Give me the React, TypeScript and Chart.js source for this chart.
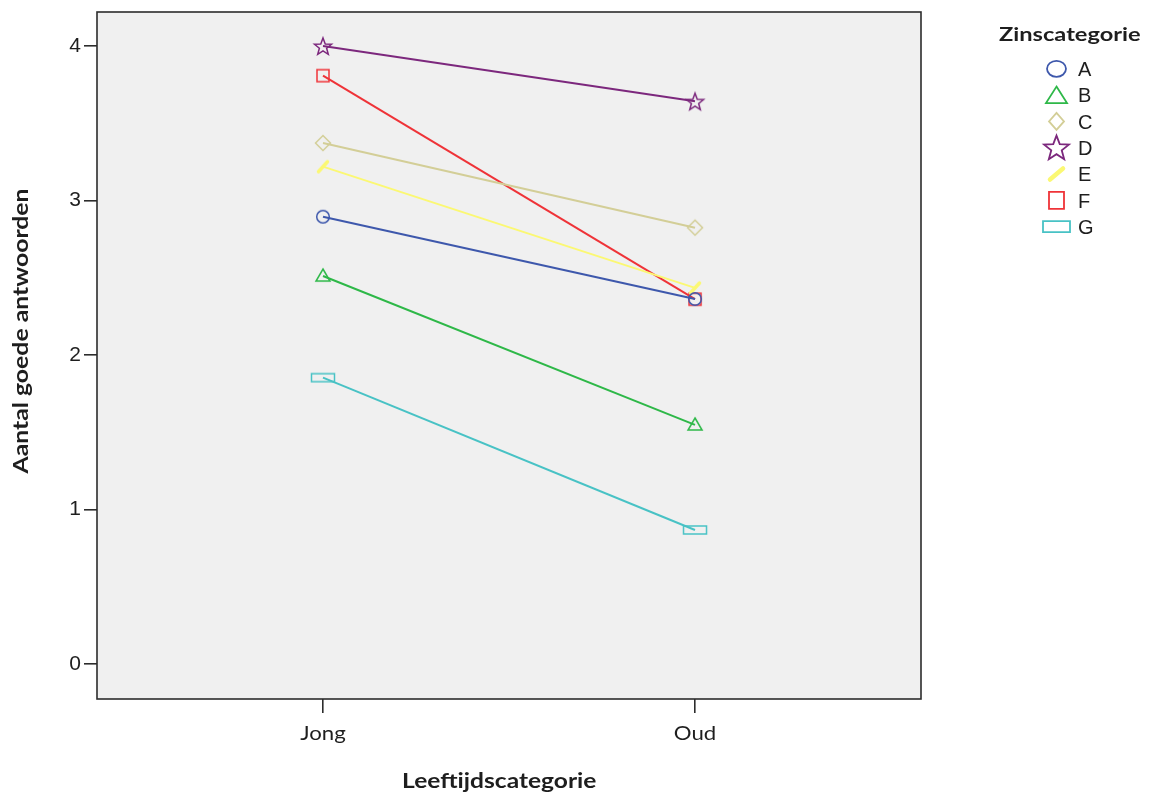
import React, { useEffect, useRef } from "react";
import { Chart, registerables } from "chart.js";

Chart.register(...registerables);

const categories = ["Jong", "Oud"];
const seriesNames = ["A", "B", "C", "D", "E", "F", "G"];
const valuesA = [2.895, 2.362];
const valuesB = [2.511, 1.547];
const valuesC = [3.372, 2.824];
const valuesD = [4.0, 3.642];
const valuesE = [3.219, 2.434];
const valuesF = [3.808, 2.361];
const valuesG = [1.853, 0.867];
const yTickValues = [0, 1, 2, 3, 4];

const seriesValues = [valuesA, valuesB, valuesC, valuesD, valuesE, valuesF, valuesG];
const seriesColors = ["#3E58AC", "#2EB848", "#D3CE97", "#7C287D", "#FBF873", "#EF3338", "#48C2C5"];
const markerKinds = ["circle", "triangle", "diamond", "star", "slash", "square", "wide"];

function shapePath(ctx: CanvasRenderingContext2D, kind: string, cx: number, cy: number, k: number) {
  ctx.beginPath();
  if (kind === "circle") {
    ctx.ellipse(cx, cy, 6.3 * k, 6.2 * k, 0, 0, Math.PI * 2);
  } else if (kind === "triangle") {
    ctx.moveTo(cx, cy - 7 * k);
    ctx.lineTo(cx + 7 * k, cy + 5 * k);
    ctx.lineTo(cx - 7 * k, cy + 5 * k);
    ctx.closePath();
  } else if (kind === "diamond") {
    ctx.moveTo(cx, cy - 7.5 * k);
    ctx.lineTo(cx + 7.5 * k, cy);
    ctx.lineTo(cx, cy + 7.5 * k);
    ctx.lineTo(cx - 7.5 * k, cy);
    ctx.closePath();
  } else if (kind === "star") {
    for (let i = 0; i < 10; i++) {
      const r = (i % 2 === 0 ? 9 : 3.8) * k;
      const a = -Math.PI / 2 + (i * Math.PI) / 5;
      const px = cx + r * Math.cos(a);
      const py = cy + k + r * Math.sin(a);
      if (i === 0) ctx.moveTo(px, py);
      else ctx.lineTo(px, py);
    }
    ctx.closePath();
  } else if (kind === "slash") {
    ctx.moveTo(cx - 4.5 * k, cy + 5 * k);
    ctx.lineTo(cx + 4.5 * k, cy - 5 * k);
  } else if (kind === "square") {
    ctx.rect(cx - 6 * k, cy - 6 * k, 12 * k, 12 * k);
  } else if (kind === "wide") {
    ctx.rect(cx - 11.5 * k, cy - 4 * k, 23 * k, 8 * k);
  }
}

function makeMarker(kind: string, color: string): HTMLCanvasElement {
  const c = document.createElement("canvas");
  const w = kind === "wide" ? 28 : 24;
  const h = 24;
  c.width = w;
  c.height = h;
  const ctx = c.getContext("2d")!;
  ctx.strokeStyle = color;
  ctx.lineWidth = kind === "slash" ? 3.5 : 1.5;
  ctx.lineCap = "round";
  shapePath(ctx, kind, w / 2, h / 2, 1);
  ctx.stroke();
  return c;
}

function drawText(
  ctx: CanvasRenderingContext2D,
  text: string,
  x: number,
  y: number,
  font: string,
  sx: number,
  align: CanvasTextAlign,
  rotate = 0
) {
  ctx.save();
  ctx.translate(x, y);
  if (rotate) ctx.rotate(rotate);
  ctx.scale(sx, 1);
  ctx.font = font;
  ctx.textAlign = align;
  ctx.textBaseline = "alphabetic";
  ctx.fillStyle = "#1e1e1e";
  ctx.fillText(text, 0, 0);
  ctx.restore();
}

export default function App() {
  const ref = useRef<HTMLCanvasElement | null>(null);

  useEffect(() => {
    if (!ref.current) return;
    const markers = markerKinds.map((k, i) => makeMarker(k, seriesColors[i]));

    const datasets = seriesNames.map((name, i) => ({
      label: name,
      data: seriesValues[i].map((v, j) => ({ x: j, y: v })),
      borderColor: seriesColors[i],
      backgroundColor: seriesColors[i],
      borderWidth: 2,
      pointStyle: markers[i],
      pointRadius: 8,
      pointHoverRadius: 8,
      tension: 0,
    }));

    const decor = {
      id: "decor",
      beforeDraw(chart: any) {
        const { ctx, chartArea: a } = chart;
        ctx.save();
        ctx.fillStyle = "#F0F0F0";
        ctx.fillRect(a.left, a.top, a.right - a.left, a.bottom - a.top);
        ctx.restore();
      },
      afterDraw(chart: any) {
        const { ctx, chartArea: a } = chart;
        ctx.save();
        ctx.strokeStyle = "#2c2c2c";
        ctx.lineWidth = 1.6;
        ctx.strokeRect(a.left, a.top, a.right - a.left, a.bottom - a.top);
        ctx.restore();

        // x tick labels
        const xs = chart.scales.x;
        categories.forEach((c, i) => {
          drawText(ctx, c, xs.getPixelForValue(i), 740, "18.5px Lato", 1.2, "center");
        });

        // axis titles
        drawText(ctx, "Leeftijdscategorie", 402, 788, "bold 21px Lato", 1.17, "left");
        drawText(ctx, "Aantal goede antwoorden", 28, 331, "bold 21px Lato", 1.18, "center", -Math.PI / 2);

        // legend
        drawText(ctx, "Zinscategorie", 999, 40.7, "bold 18.6px Lato", 1.27, "left");
        ctx.save();
        seriesNames.forEach((n, i) => {
          const y = 68.8 + i * 26.3;
          const kind = markerKinds[i];
          ctx.strokeStyle = seriesColors[i];
          ctx.lineCap = "round";
          ctx.lineWidth = kind === "slash" ? 4.5 : 1.8;
          const cx = 1056.5;
          if (kind === "circle") {
            ctx.beginPath();
            ctx.ellipse(cx, y, 9.5, 8, 0, 0, Math.PI * 2);
          } else if (kind === "triangle") {
            ctx.beginPath();
            ctx.moveTo(cx, y - 8.5);
            ctx.lineTo(cx + 10.5, y + 8);
            ctx.lineTo(cx - 10.5, y + 8);
            ctx.closePath();
          } else if (kind === "diamond") {
            ctx.beginPath();
            ctx.moveTo(cx, y - 8.5);
            ctx.lineTo(cx + 7.5, y);
            ctx.lineTo(cx, y + 8.5);
            ctx.lineTo(cx - 7.5, y);
            ctx.closePath();
          } else if (kind === "star") {
            shapePath(ctx, "star", cx, y - 0.5, 1.45);
          } else if (kind === "slash") {
            ctx.beginPath();
            ctx.moveTo(cx - 6.5, y + 5.5);
            ctx.lineTo(cx + 6.5, y - 5.5);
          } else if (kind === "square") {
            ctx.beginPath();
            ctx.rect(cx - 7.5, y - 8.5, 15, 17);
          } else {
            ctx.beginPath();
            ctx.rect(cx - 13.5, y - 5.5, 27, 11);
          }
          ctx.stroke();
          ctx.font = "20px 'Liberation Sans'";
          ctx.textAlign = "left";
          ctx.textBaseline = "alphabetic";
          ctx.fillStyle = "#1e1e1e";
          ctx.fillText(n, 1078, y + 7.2);
        });
        ctx.restore();
      },
    };

    const chart = new Chart(ref.current, {
      type: "line",
      data: { datasets },
      options: {
        animation: false,
        responsive: false,
        layout: { padding: { left: 0, top: 12, right: 1160 - 921, bottom: 0 } },
        plugins: { legend: { display: false }, tooltip: { enabled: false } },
        scales: {
          x: {
            type: "linear",
            min: -0.6075,
            max: 1.6075,
            afterBuildTicks: (s: any) => {
              s.ticks = categories.map((_, i) => ({ value: i }));
            },
            afterFit: (s: any) => {
              s.height = 793 - 699;
              s.paddingLeft = 0;
              s.paddingRight = 0;
            },
            ticks: { display: false },
            grid: {
              display: true,
              drawOnChartArea: false,
              drawTicks: true,
              tickLength: 14,
              color: "#2c2c2c",
              lineWidth: 1.6,
            },
            border: { display: false },
          },
          y: {
            type: "linear",
            min: -0.227,
            max: 4.22,
            afterBuildTicks: (s: any) => {
              s.ticks = yTickValues.map((v) => ({ value: v }));
            },
            afterFit: (s: any) => {
              s.width = 97;
              s.paddingTop = 0;
              s.paddingBottom = 0;
            },
            ticks: {
              font: { family: "'Liberation Sans'", size: 21 },
              color: "#1e1e1e",
              padding: 3,
            },
            grid: {
              display: true,
              drawOnChartArea: false,
              drawTicks: true,
              tickLength: 13,
              color: "#2c2c2c",
              lineWidth: 1.6,
            },
            border: { display: false },
          },
        },
      },
      plugins: [decor],
    } as any);
    return () => chart.destroy();
  }, []);

  return (
    <canvas
      ref={ref}
      width={1160}
      height={793}
      style={{ position: "fixed", left: 0, top: 0, width: 1160, height: 793, background: "#ffffff" }}
    />
  );
}
